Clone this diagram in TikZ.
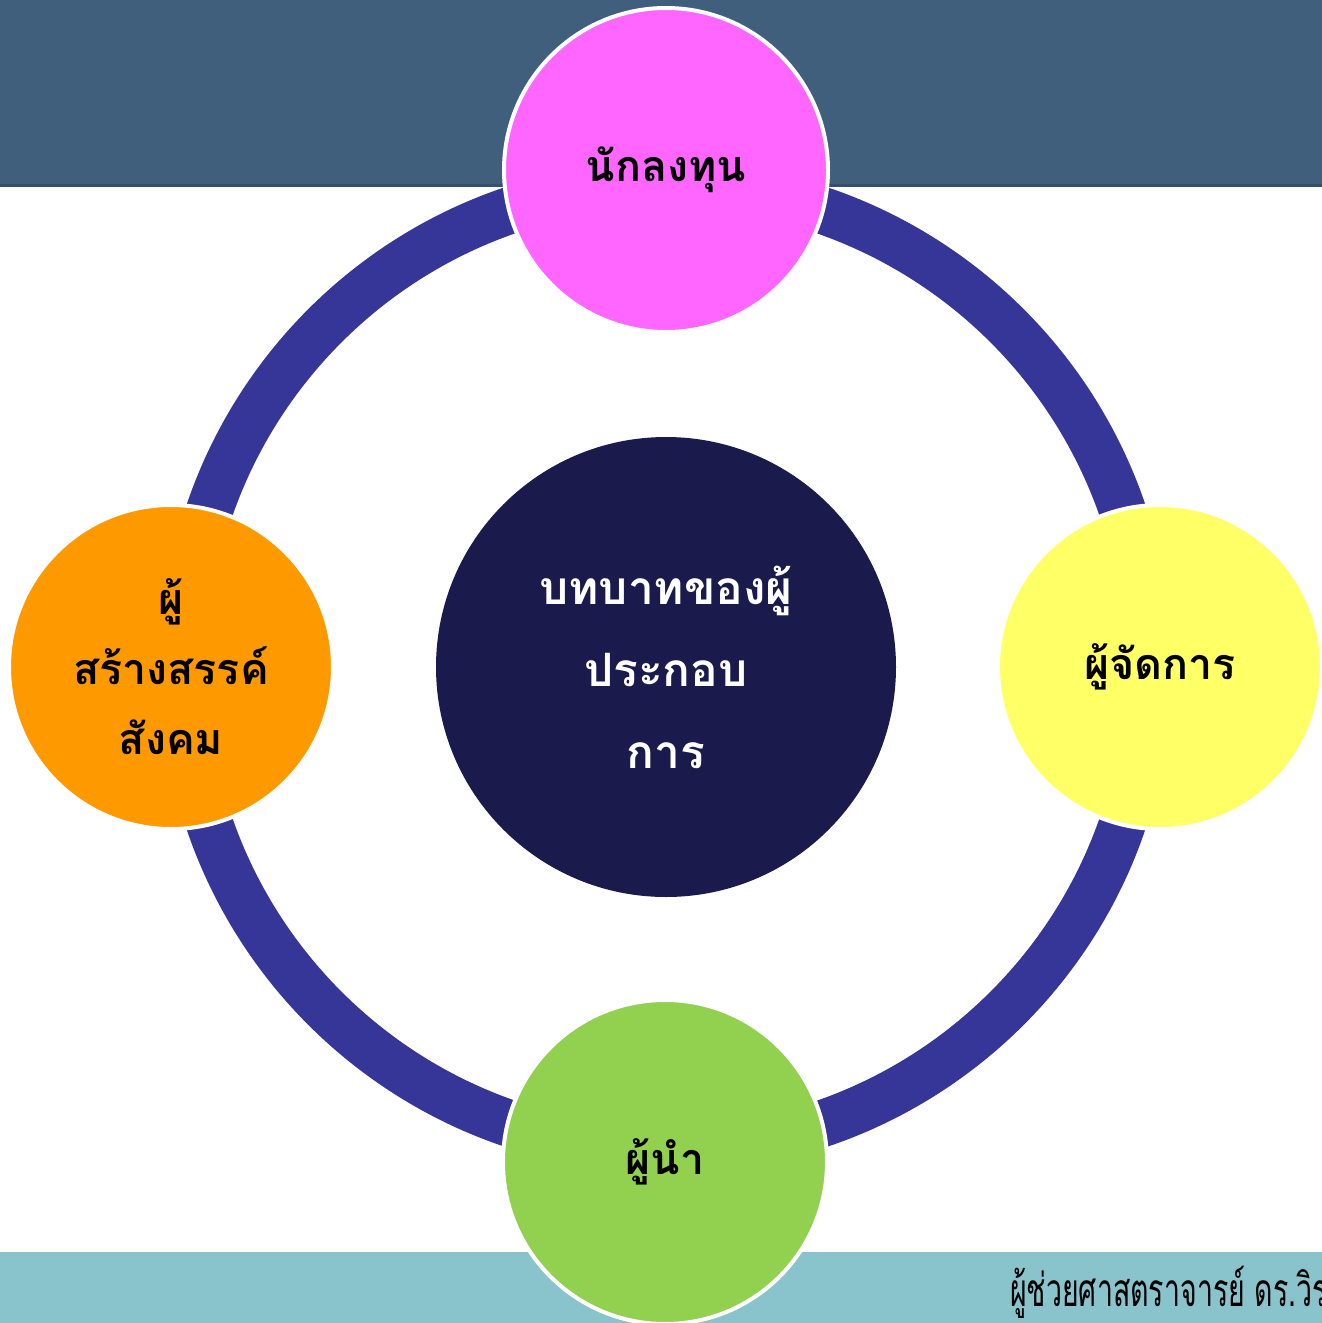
\documentclass[tikz,border=0pt]{standalone}
\usepackage{fontspec}
\newfontfamily\thaifont[Script=Thai]{Loma}
\definecolor{banner}{HTML}{3F5F7D}
\definecolor{bannerline}{HTML}{34506B}
\definecolor{footband}{HTML}{89C4CC}
\definecolor{ringblue}{HTML}{363598}
\definecolor{navy}{HTML}{1B1A4D}
\definecolor{pinkc}{HTML}{FF66FF}
\definecolor{orangec}{HTML}{FF9900}
\definecolor{yellowc}{HTML}{FFFF66}
\definecolor{greenc}{HTML}{92D050}
\tikzset{
  bubble/.style={circle, draw=white, line width=4pt, minimum size=#1, inner sep=0pt, align=center},
  roletext/.style={font=\thaifont\bfseries\fontsize{43}{70}\selectfont, text=black},
}
\begin{document}
\begin{tikzpicture}[x=1pt,y=-1pt]
\useasboundingbox (0,0) rectangle (1322,1323);
\fill[white] (0,0) rectangle (1322,1323);
% top banner
\fill[banner] (0,0) rectangle (1322,187);
\fill[bannerline] (0,184) rectangle (1322,187);
% bottom band
\fill[footband] (0,1252) rectangle (1322,1323);
\node[anchor=west, inner sep=0pt, xscale=0.62, font=\thaifont\fontsize{46}{50}\selectfont, text=black] (foot) at (1010,1292) {ผู้ช่วยศาสตราจารย์ ดร.วิร};
% ring
\coordinate (ctr) at (666,667);
\draw[ringblue, line width=47pt] (ctr) circle[radius=482.5];
% center
\node[bubble=460pt, fill=navy, draw=none, font=\thaifont\bfseries\fontsize{46}{82}\selectfont, text=white] (center) at (ctr) {บทบาทของผู้\\ประกอบ\\การ};
% satellites
\node[bubble=324pt, fill=pinkc, roletext] (top) at (666,170) {นักลงทุน};
\node[bubble=324pt, fill=yellowc, roletext] (right) at (1160,667) {ผู้จัดการ};
\node[bubble=324pt, fill=greenc, roletext] (bottom) at (665,1162) {ผู้นำ};
\node[bubble=324pt, fill=orangec, roletext] (left) at (171,667) {ผู้\\สร้างสรรค์\\สังคม};
\end{tikzpicture}
\end{document}
